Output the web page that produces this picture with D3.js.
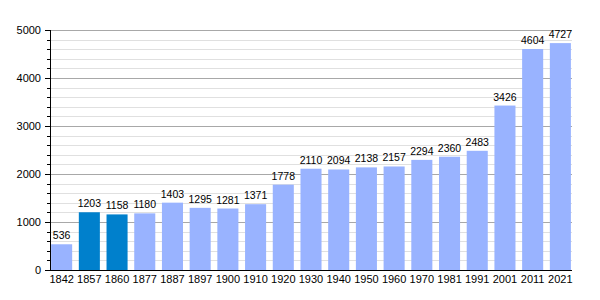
<!DOCTYPE html>
<html>
<head>
<meta charset="utf-8">
<script src="https://cdn.jsdelivr.net/npm/d3@7"></script>
<style>
  body { margin: 0; background: #fff; }
  text { font-family: "Liberation Sans", Arial, sans-serif; fill: #000; }
</style>
</head>
<body>
<div id="chart"></div>
<script>
const years = ["1842", "1857", "1860", "1877", "1887", "1897", "1900", "1910", "1920", "1930",
               "1940", "1950", "1960", "1970", "1981", "1991", "2001", "2011", "2021"];
const population = [536, 1203, 1158, 1180, 1403, 1295, 1281, 1371, 1778, 2110,
                    2094, 2138, 2157, 2294, 2360, 2483, 3426, 4604, 4727];
const highlighted = ["1857", "1860"];
const yTicks = [0, 1000, 2000, 3000, 4000, 5000];

const width = 600, height = 300;
const margin = { top: 30, right: 28, bottom: 30, left: 50 };

const svg = d3.select("#chart")
    .append("svg")
    .attr("width", width)
    .attr("height", height);

const x = d3.scaleBand()
    .domain(years)
    .range([margin.left, width - margin.right])
    .paddingInner(0.24)
    .paddingOuter(0.04);

const y = d3.scaleLinear()
    .domain([0, 5000])
    .range([height - margin.bottom, margin.top]);

// minor grid every 200
const minor = d3.range(0, 5001, 200).filter(d => d % 1000 !== 0);
svg.append("g")
    .selectAll("line")
    .data(minor)
    .join("line")
    .attr("x1", margin.left)
    .attr("x2", width - margin.right)
    .attr("y1", d => Math.round(y(d)) + 0.5)
    .attr("y2", d => Math.round(y(d)) + 0.5)
    .attr("stroke", "#e0e0e0");

svg.append("g")
    .selectAll("line")
    .data(yTicks.filter(d => d > 0))
    .join("line")
    .attr("x1", margin.left)
    .attr("x2", width - margin.right)
    .attr("y1", d => Math.round(y(d)) + 0.5)
    .attr("y2", d => Math.round(y(d)) + 0.5)
    .attr("stroke", "#a8a8a8");

// bars
svg.append("g")
    .selectAll("rect")
    .data(years)
    .join("rect")
    .attr("x", d => x(d))
    .attr("width", x.bandwidth())
    .attr("y", (d, i) => y(population[i]))
    .attr("height", (d, i) => y(0) - y(population[i]))
    .attr("fill", d => highlighted.includes(d) ? "#0080cc" : "#99b3ff");

// value labels
svg.append("g")
    .selectAll("text")
    .data(years)
    .join("text")
    .attr("x", d => x(d) + x.bandwidth() / 2)
    .attr("y", (d, i) => y(population[i]) - 5)
    .attr("text-anchor", "middle")
    .style("font-size", "10.5px")
    .text((d, i) => population[i]);

// y axis
const yAxis = svg.append("g")
    .attr("transform", `translate(${margin.left},0)`);
yAxis.append("line")
    .attr("x1", 0.5).attr("x2", 0.5)
    .attr("y1", y(5000)).attr("y2", y(0))
    .attr("stroke", "#000");
yAxis.selectAll(".minor")
    .data(minor)
    .join("line")
    .attr("x1", -3).attr("x2", 0)
    .attr("y1", d => Math.round(y(d)) + 0.5)
    .attr("y2", d => Math.round(y(d)) + 0.5)
    .attr("stroke", "#000");
yAxis.selectAll(".major")
    .data(yTicks)
    .join("line")
    .attr("x1", -5).attr("x2", 0)
    .attr("y1", d => Math.round(y(d)) + 0.5)
    .attr("y2", d => Math.round(y(d)) + 0.5)
    .attr("stroke", "#000");
yAxis.selectAll("text")
    .data(yTicks)
    .join("text")
    .attr("x", -9)
    .attr("y", d => y(d) + 4)
    .attr("text-anchor", "end")
    .style("font-size", "11px")
    .text(d => d);

// x axis
svg.append("line")
    .attr("x1", margin.left)
    .attr("x2", width - margin.right)
    .attr("y1", y(0) + 0.5)
    .attr("y2", y(0) + 0.5)
    .attr("stroke", "#000");

svg.append("g")
    .selectAll("text")
    .data(years)
    .join("text")
    .attr("x", d => x(d) + x.bandwidth() / 2)
    .attr("y", y(0) + 13)
    .attr("text-anchor", "middle")
    .style("font-size", "11px")
    .text(d => d);
</script>
</body>
</html>
